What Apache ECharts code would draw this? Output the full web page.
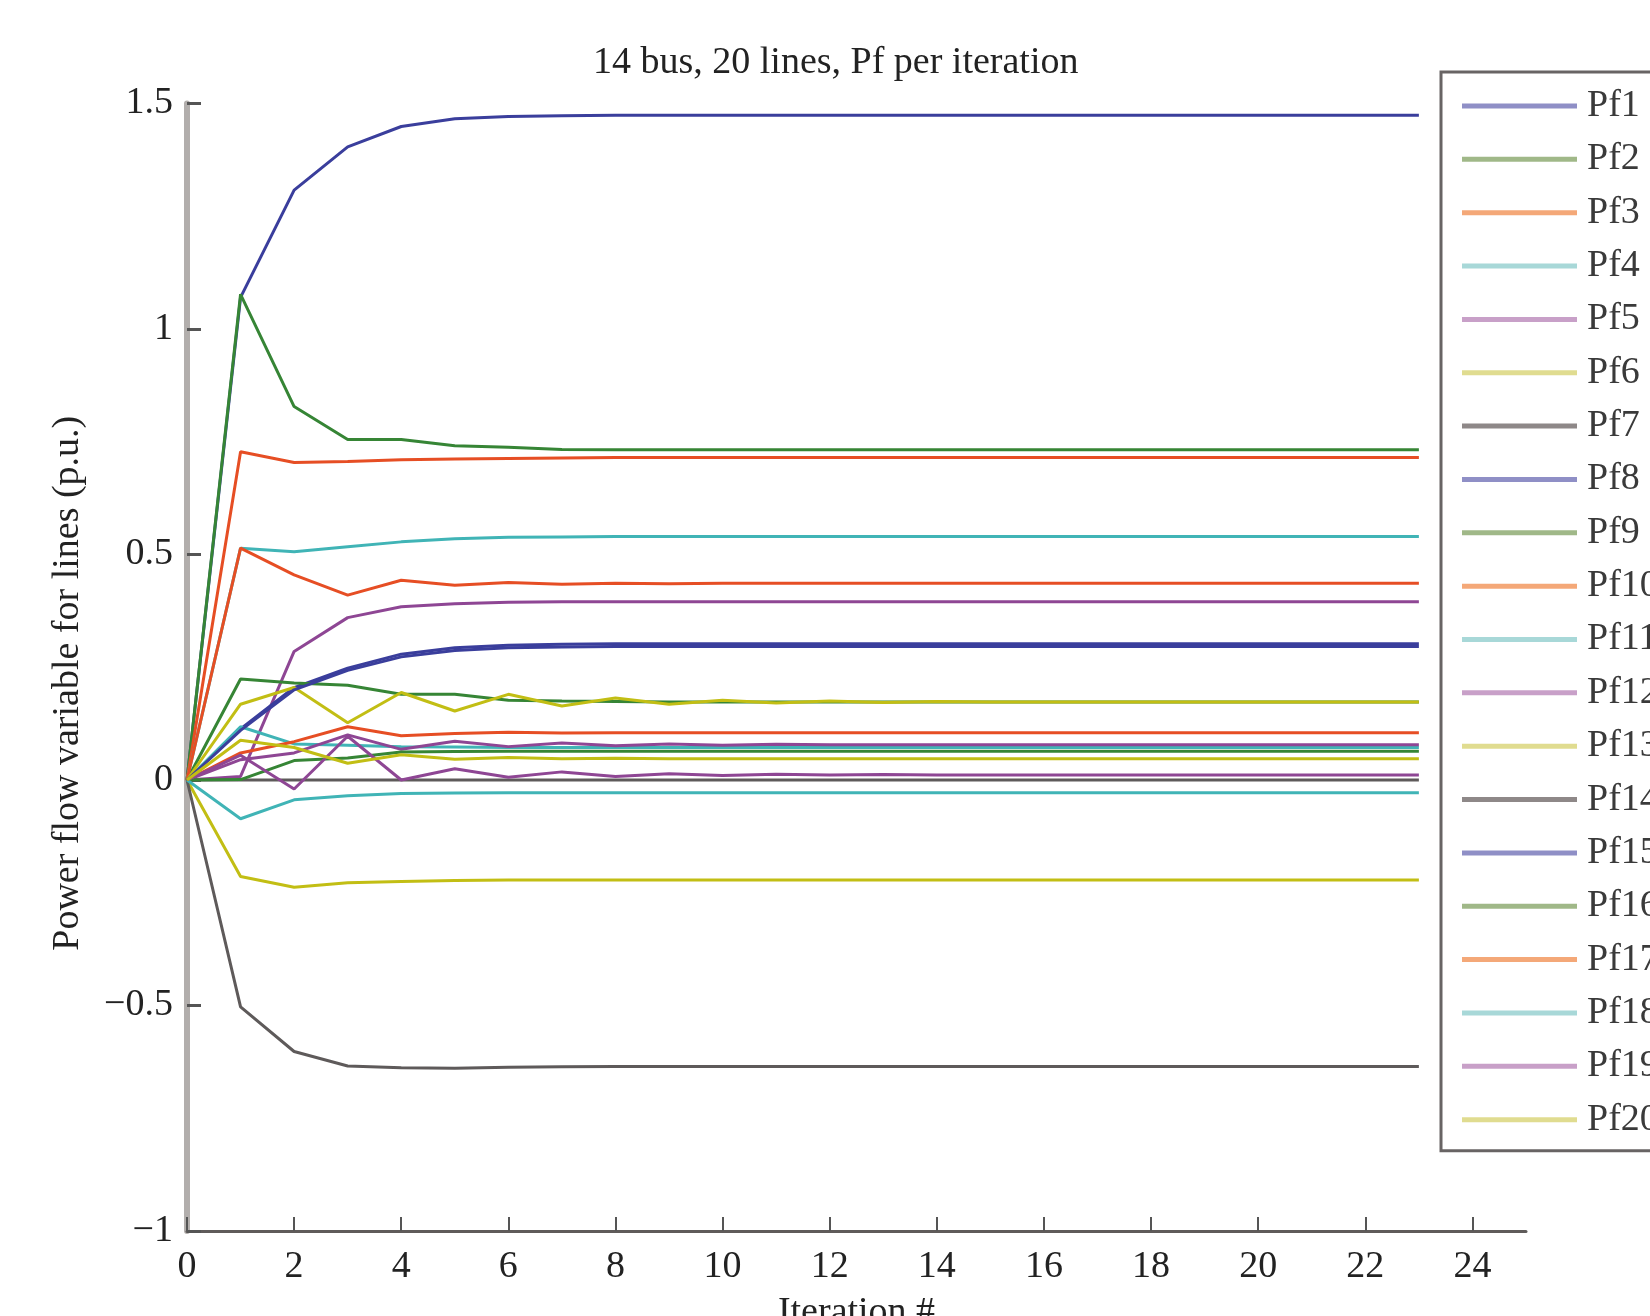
<!DOCTYPE html>
<html>
<head>
<meta charset="utf-8">
<title>14 bus, 20 lines, Pf per iteration</title>
<script src="https://cdn.jsdelivr.net/npm/echarts@6/dist/echarts.min.js"></script>
<style>
    html, body { margin: 0; padding: 0; background: #ffffff; }
    #pf_chart { width: 1650px; height: 1316px; }
</style>
</head>
<body>
<div id="pf_chart"></div>
<script>
var iterations = [0, 1, 2, 3, 4, 5, 6, 7, 8, 9, 10, 11, 12, 13, 14, 15, 16, 17, 18, 19, 20, 21, 22, 23];

var Pf1 = [0, 1.07, 1.308, 1.404, 1.449, 1.466, 1.471, 1.473, 1.474, 1.474, 1.474, 1.474, 1.474, 1.474, 1.474, 1.474, 1.474, 1.474, 1.474, 1.474, 1.474, 1.474, 1.474, 1.474];
var Pf2 = [0, 1.077, 0.828, 0.755, 0.755, 0.741, 0.738, 0.733, 0.732, 0.732, 0.732, 0.732, 0.732, 0.732, 0.732, 0.732, 0.732, 0.732, 0.732, 0.732, 0.732, 0.732, 0.732, 0.732];
var Pf3 = [0, 0.728, 0.704, 0.706, 0.71, 0.712, 0.713, 0.714, 0.715, 0.715, 0.715, 0.715, 0.715, 0.715, 0.715, 0.715, 0.715, 0.715, 0.715, 0.715, 0.715, 0.715, 0.715, 0.715];
var Pf4 = [0, 0.514, 0.506, 0.517, 0.528, 0.535, 0.538, 0.539, 0.54, 0.54, 0.54, 0.54, 0.54, 0.54, 0.54, 0.54, 0.54, 0.54, 0.54, 0.54, 0.54, 0.54, 0.54, 0.54];
var Pf5 = [0, 0.008, 0.285, 0.36, 0.384, 0.391, 0.394, 0.395, 0.395, 0.395, 0.395, 0.395, 0.395, 0.395, 0.395, 0.395, 0.395, 0.395, 0.395, 0.395, 0.395, 0.395, 0.395, 0.395];
var Pf6 = [0, -0.214, -0.238, -0.228, -0.225, -0.223, -0.222, -0.222, -0.222, -0.222, -0.222, -0.222, -0.222, -0.222, -0.222, -0.222, -0.222, -0.222, -0.222, -0.222, -0.222, -0.222, -0.222, -0.222];
var Pf7 = [0, -0.503, -0.602, -0.634, -0.638, -0.639, -0.637, -0.636, -0.635, -0.635, -0.635, -0.635, -0.635, -0.635, -0.635, -0.635, -0.635, -0.635, -0.635, -0.635, -0.635, -0.635, -0.635, -0.635];
var Pf8 = [0, 0.113, 0.205, 0.248, 0.279, 0.293, 0.299, 0.301, 0.302, 0.302, 0.302, 0.302, 0.302, 0.302, 0.302, 0.302, 0.302, 0.302, 0.302, 0.302, 0.302, 0.302, 0.302, 0.302];
var Pf9 = [0, 0.224, 0.215, 0.21, 0.19, 0.19, 0.177, 0.175, 0.174, 0.173, 0.173, 0.173, 0.173, 0.173, 0.173, 0.173, 0.173, 0.173, 0.173, 0.173, 0.173, 0.173, 0.173, 0.173];
var Pf10 = [0, 0.514, 0.455, 0.41, 0.443, 0.432, 0.438, 0.434, 0.436, 0.435, 0.436, 0.436, 0.436, 0.436, 0.436, 0.436, 0.436, 0.436, 0.436, 0.436, 0.436, 0.436, 0.436, 0.436];
var Pf11 = [0, 0.118, 0.08, 0.077, 0.074, 0.073, 0.072, 0.072, 0.072, 0.072, 0.072, 0.072, 0.072, 0.072, 0.072, 0.072, 0.072, 0.072, 0.072, 0.072, 0.072, 0.072, 0.072, 0.072];
var Pf12 = [0, 0.045, 0.06, 0.1, 0.068, 0.086, 0.074, 0.082, 0.076, 0.08, 0.077, 0.079, 0.078, 0.078, 0.078, 0.078, 0.078, 0.078, 0.078, 0.078, 0.078, 0.078, 0.078, 0.078];
var Pf13 = [0, 0.168, 0.205, 0.127, 0.194, 0.153, 0.19, 0.164, 0.182, 0.168, 0.177, 0.171, 0.175, 0.172, 0.174, 0.173, 0.173, 0.173, 0.173, 0.173, 0.173, 0.173, 0.173, 0.173];
var Pf14 = [0, 0, 0, 0, 0, 0, 0, 0, 0, 0, 0, 0, 0, 0, 0, 0, 0, 0, 0, 0, 0, 0, 0, 0];
var Pf15 = [0, 0.11, 0.2, 0.243, 0.273, 0.287, 0.293, 0.295, 0.296, 0.296, 0.296, 0.296, 0.296, 0.296, 0.296, 0.296, 0.296, 0.296, 0.296, 0.296, 0.296, 0.296, 0.296, 0.296];
var Pf16 = [0, 0.001, 0.043, 0.049, 0.062, 0.063, 0.064, 0.064, 0.064, 0.064, 0.064, 0.064, 0.064, 0.064, 0.064, 0.064, 0.064, 0.064, 0.064, 0.064, 0.064, 0.064, 0.064, 0.064];
var Pf17 = [0, 0.06, 0.085, 0.118, 0.098, 0.103, 0.106, 0.104, 0.105, 0.105, 0.105, 0.105, 0.105, 0.105, 0.105, 0.105, 0.105, 0.105, 0.105, 0.105, 0.105, 0.105, 0.105, 0.105];
var Pf18 = [0, -0.086, -0.044, -0.035, -0.03, -0.029, -0.028, -0.028, -0.028, -0.028, -0.028, -0.028, -0.028, -0.028, -0.028, -0.028, -0.028, -0.028, -0.028, -0.028, -0.028, -0.028, -0.028, -0.028];
var Pf19 = [0, 0.055, -0.02, 0.097, 0.0, 0.025, 0.006, 0.018, 0.008, 0.014, 0.01, 0.013, 0.011, 0.012, 0.011, 0.011, 0.011, 0.011, 0.011, 0.011, 0.011, 0.011, 0.011, 0.011];
var Pf20 = [0, 0.088, 0.072, 0.037, 0.056, 0.046, 0.05, 0.047, 0.048, 0.047, 0.047, 0.047, 0.047, 0.047, 0.047, 0.047, 0.047, 0.047, 0.047, 0.047, 0.047, 0.047, 0.047, 0.047];

var seriesNames = ['Pf1', 'Pf2', 'Pf3', 'Pf4', 'Pf5', 'Pf6', 'Pf7', 'Pf8', 'Pf9', 'Pf10',
                   'Pf11', 'Pf12', 'Pf13', 'Pf14', 'Pf15', 'Pf16', 'Pf17', 'Pf18', 'Pf19', 'Pf20'];
var seriesValues = [Pf1, Pf2, Pf3, Pf4, Pf5, Pf6, Pf7, Pf8, Pf9, Pf10,
                    Pf11, Pf12, Pf13, Pf14, Pf15, Pf16, Pf17, Pf18, Pf19, Pf20];

var xTicks = [0, 2, 4, 6, 8, 10, 12, 14, 16, 18, 20, 22, 24];
var yTicks = [-1, -0.5, 0, 0.5, 1, 1.5];

// colour order repeats every 7 lines
var lineColors = ['#3a3e9c', '#368535', '#e64e24', '#40b4b6', '#8e4694', '#c2be14', '#5e5a5a'];
var legendColors = ['#8f8fc6', '#a0b888', '#f4a878', '#a8d8d8', '#c8a0c8', '#e0dc90', '#8e8888'];

var fontName = 'Liberation Serif';

var myChart = echarts.init(document.getElementById('pf_chart'));

var series = [];
var legendData = [];
for (var s = 0; s < seriesNames.length; s++) {
    var pts = [];
    for (var i = 0; i < iterations.length; i++) {
        pts.push([iterations[i], seriesValues[s][i]]);
    }
    series.push({
        name: seriesNames[s],
        type: 'line',
        symbol: 'none',
        data: pts,
        lineStyle: { width: 3, color: lineColors[s % 7] },
        itemStyle: { color: lineColors[s % 7] },
        emphasis: { disabled: true }
    });
    legendData.push({
        name: seriesNames[s],
        icon: 'rect',
        itemStyle: { color: legendColors[s % 7] }
    });
}

var option = {
    animation: false,
    backgroundColor: '#ffffff',
    title: {
        text: '14 bus, 20 lines, Pf per iteration',
        left: 588,
        top: 39,
        textStyle: { fontFamily: fontName, fontSize: 38, fontWeight: 'normal', color: '#222' }
    },
    legend: {
        orient: 'vertical',
        left: 1441,
        top: 72,
        padding: [15, 40, 12, 21],
        backgroundColor: '#ffffff',
        borderColor: '#686464',
        borderWidth: 3,
        borderRadius: 0,
        itemWidth: 115,
        itemHeight: 5,
        itemGap: 15.35,
        selectedMode: false,
        textStyle: { fontFamily: fontName, fontSize: 38, lineHeight: 38, color: '#3a3a3a', padding: [0, 0, 0, 5] },
        data: legendData
    },
    grid: {
        left: 187,
        right: 124,
        top: 103.5,
        bottom: 85,
        containLabel: false,
        outerBoundsMode: 'none'
    },
    xAxis: {
        type: 'value',
        min: 0,
        max: 25,
        interval: 2,
        name: 'Iteration #',
        nameLocation: 'middle',
        nameGap: 63,
        nameTextStyle: { fontFamily: fontName, fontSize: 38, color: '#222' },
        splitLine: { show: false },
        axisLine: { onZero: false, lineStyle: { color: '#5f5b5a', width: 3 } },
        axisTick: { inside: true, length: 14, customValues: xTicks, lineStyle: { color: '#555', width: 2 } },
        axisLabel: { margin: 17, customValues: xTicks, fontFamily: fontName, fontSize: 38, color: '#222' }
    },
    yAxis: {
        type: 'value',
        min: -1,
        max: 1.5,
        interval: 0.5,
        name: 'Power flow variable for lines (p.u.)',
        nameLocation: 'middle',
        nameGap: 100,
        nameTextStyle: { fontFamily: fontName, fontSize: 38, color: '#222', padding: [0, 32, 0, 0] },
        splitLine: { show: false },
        axisLine: { onZero: false, lineStyle: { color: '#b2aeac', width: 6 } },
        axisTick: { inside: true, length: 14, customValues: yTicks, lineStyle: { color: '#555', width: 3 } },
        axisLabel: {
            margin: 14,
            customValues: yTicks,
            fontFamily: fontName,
            fontSize: 38,
            color: '#222',
            formatter: function (v) { return String(v).replace('-', '\u2212'); }
        }
    },
    series: series
};

myChart.setOption(option);
</script>
</body>
</html>
